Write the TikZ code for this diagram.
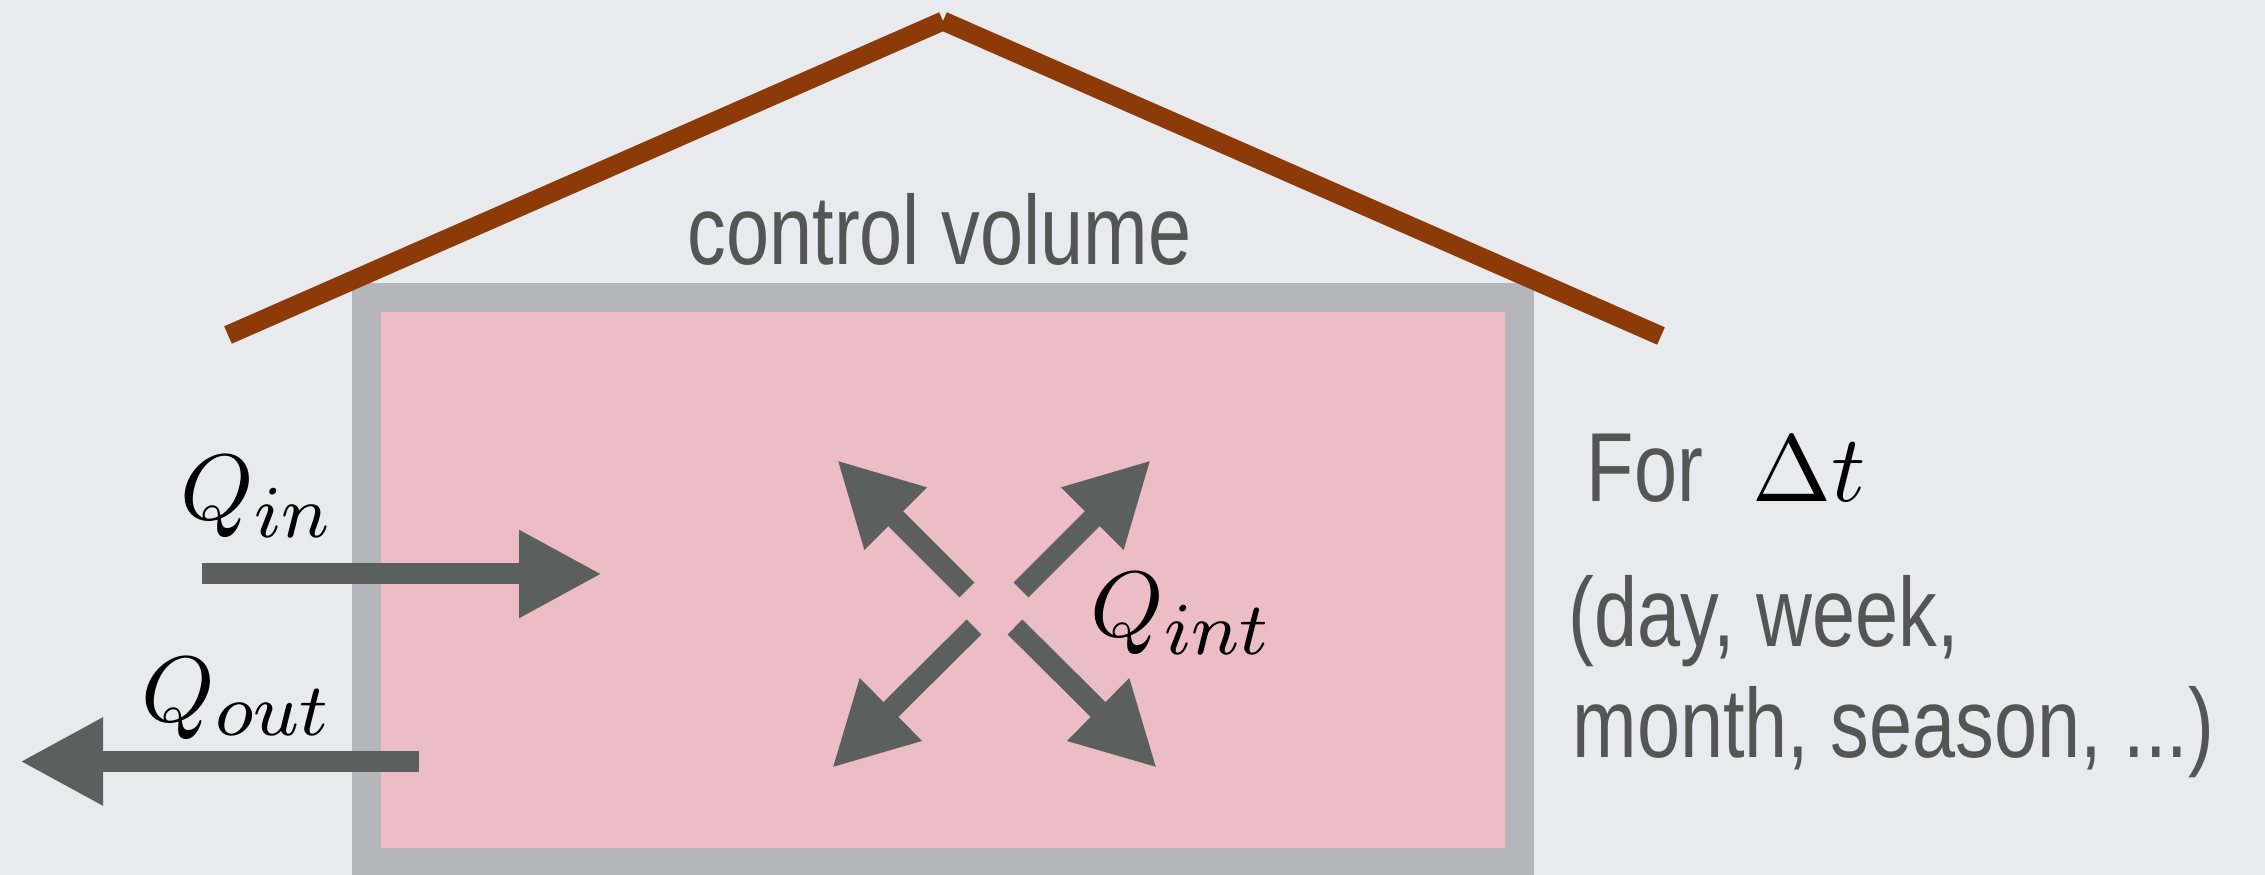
\documentclass[tikz,border=0pt]{standalone}
\usepackage[no-math]{fontspec}
\setmainfont[FakeStretch=0.79]{Liberation Sans}
\usetikzlibrary{arrows.meta}
\DeclareMathSizes{10}{10}{8}{6}
\newcommand{\bigmath}[2]{\scalebox{#1}{\fontsize{10}{12}\selectfont$#2$}}
\definecolor{bggray}{RGB}{232,234,237}
\definecolor{wallgray}{RGB}{180,182,187}
\definecolor{roompink}{RGB}{236,189,197}
\definecolor{roofbrown}{RGB}{140,58,7}
\definecolor{flowgray}{RGB}{91,95,94}
\definecolor{txtgray}{RGB}{85,85,85}

\begin{document}
\begin{tikzpicture}[every node/.style={font=\fontsize{27.9}{33}\selectfont, text=txtgray, inner sep=0pt},
  flow/.style={draw=flowgray, line width=0.21cm, -{Triangle[length=0.83cm,width=0.82cm]}},
  roof/.style={draw=roofbrown, line width=0.19cm},
  qlabel/.style={anchor=base west, text=black}]
\useasboundingbox[fill=bggray] (0,0) rectangle (22.65,8.75);
\node[draw=wallgray, line width=0.29cm, fill=roompink, minimum width=11.535cm, minimum height=5.65cm, anchor=north] (cv) at (9.43,5.92) {};
\node[anchor=base] (cvlabel) at (9.395,6.10) {control volume};
\coordinate (eaveL) at (2.28,5.40); \coordinate (apex) at (9.43,8.54); \coordinate (eaveR) at (16.61,5.39);
\draw[roof] (eaveL) -- (apex); \draw[roof] (apex) -- (eaveR);
\coordinate (inS) at (2.02,3.01); \coordinate (inE) at (6.02,3.01);
\draw[flow] (inS) -- (inE);
\node[qlabel] (qin) at (1.80,3.55) {\bigmath{2.65}{Q_{in}}};
\coordinate (outS) at (4.19,1.135); \coordinate (outE) at (0.20,1.135);
\draw[flow] (outS) -- (outE);
\node[qlabel] (qout) at (1.41,1.53) {\bigmath{2.65}{Q_{out}}};
\foreach \n/\tx/\ty/\hx/\hy in {1/9.67/2.85/8.37/4.15, 2/10.21/2.85/11.51/4.15, 3/9.74/2.48/8.32/1.07, 4/10.15/2.48/11.57/1.07}{
  \coordinate (int\n a) at (\tx,\ty); \coordinate (int\n b) at (\hx,\hy);
  \draw[flow] (int\n a) -- (int\n b);
}
\node[qlabel] (qint) at (10.90,2.38) {\bigmath{2.65}{Q_{int}}};
\node[anchor=base west] (per) at (15.86,3.73) {For\hspace{0.5cm}{\color{black}\bigmath{2.7}{\Delta t}}};
\node[anchor=base west] (span1) at (15.68,2.28) {(day, week,};
\node[anchor=base west] (span2) at (15.72,1.17) {month, season, ...)};
\end{tikzpicture}
\end{document}
